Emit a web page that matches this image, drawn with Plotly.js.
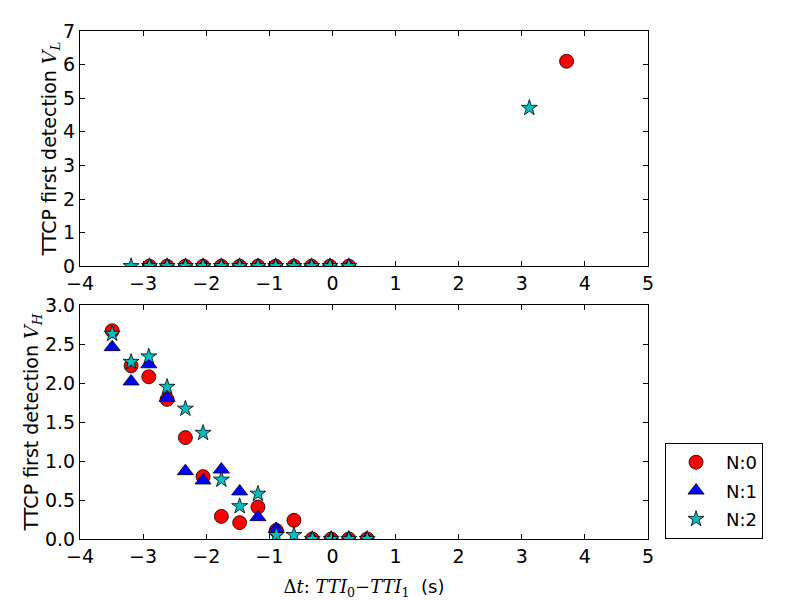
<!DOCTYPE html>
<html>
<head>
<meta charset="utf-8">
<script src="https://cdn.plot.ly/plotly-3.0.1.min.js"></script>
<style>
  body { margin: 0; background: white; }
  #chart { width: 800px; height: 600px; }
</style>
</head>
<body>
<div id="chart"></div>
<script>
// top panel: V_L
var top_x_n0 = [-2.90, -2.62, -2.33, -2.05, -1.76, -1.47, -1.18, -0.90, -0.61, -0.33, -0.04, 0.26, 3.71]
var top_y_n0 = [0, 0, 0, 0, 0, 0, 0, 0, 0, 0, 0, 0, 6.10]
var top_x_n1 = [-2.90, -2.62, -2.33, -2.05, -1.76, -1.47, -1.18, -0.90, -0.61, -0.33, -0.04, 0.26]
var top_y_n1 = [0, 0, 0, 0, 0, 0, 0, 0, 0, 0, 0, 0]
var top_x_n2 = [-3.19, -2.90, -2.62, -2.33, -2.05, -1.76, -1.47, -1.18, -0.90, -0.61, -0.33, -0.04, 0.26, 3.12]
var top_y_n2 = [0, 0, 0, 0, 0, 0, 0, 0, 0, 0, 0, 0, 0, 4.71]

// bottom panel: V_H
var bot_x_n0 = [-3.49, -3.19, -2.91, -2.62, -2.33, -2.05, -1.76, -1.47, -1.18, -0.89, -0.61, -0.32, -0.02, 0.26, 0.55]
var bot_y_n0 = [2.67, 2.22, 2.08, 1.79, 1.30, 0.80, 0.29, 0.21, 0.41, 0.11, 0.24, 0, 0, 0, 0]
var bot_x_n1 = [-3.49, -3.19, -2.91, -2.62, -2.33, -2.05, -1.76, -1.47, -1.18, -0.89, -0.32, -0.02, 0.26, 0.55]
var bot_y_n1 = [2.46, 2.02, 2.24, 1.81, 0.87, 0.75, 0.89, 0.61, 0.28, 0.13, 0, 0, 0, 0]
var bot_x_n2 = [-3.49, -3.19, -2.91, -2.62, -2.33, -2.05, -1.76, -1.47, -1.18, -0.89, -0.61, -0.32, -0.02, 0.26, 0.55]
var bot_y_n2 = [2.63, 2.27, 2.34, 1.95, 1.67, 1.36, 0.76, 0.42, 0.58, 0.05, 0.05, 0, 0, 0, 0]

var names = ['N:0', 'N:1', 'N:2']
var symbols = ['circle', 'triangle-up', 'star']
var colors = ['#ff0000', '#0000ff', '#00bfbf']
var sizes = [14, 14, 12]

var top_xs = [top_x_n0, top_x_n1, top_x_n2]
var top_ys = [top_y_n0, top_y_n1, top_y_n2]
var bot_xs = [bot_x_n0, bot_x_n1, bot_x_n2]
var bot_ys = [bot_y_n0, bot_y_n1, bot_y_n2]

var data = []

function marker(i) {
  return {
    symbol: symbols[i],
    color: colors[i],
    size: sizes[i],
    line: {color: 'black', width: 0.8}
  }
}

for (var i = 0; i < 3; i++) {
  data.push({
    type: 'scatter',
    mode: 'markers',
    x: top_xs[i],
    y: top_ys[i],
    name: names[i],
    legendgroup: names[i],
    showlegend: false,
    xaxis: 'x',
    yaxis: 'y',
    marker: marker(i)
  })
}

for (var i = 0; i < 3; i++) {
  data.push({
    type: 'scatter',
    mode: 'markers',
    x: bot_xs[i],
    y: bot_ys[i],
    name: names[i],
    legendgroup: names[i],
    xaxis: 'x2',
    yaxis: 'y2',
    marker: marker(i)
  })
}

var math = "font-family:DejaVu Serif"
var fs = 19

var axis_style = {
  showline: true,
  linecolor: 'black',
  linewidth: 1,
  mirror: 'ticks',
  ticks: 'inside',
  ticklen: 5,
  tickcolor: 'black',
  showgrid: false,
  zeroline: false,
  tickfont: {family: 'DejaVu Sans', size: fs, color: 'black'}
}

var layout = {
  width: 800,
  height: 600,
  margin: {l: 80, r: 152, t: 31, b: 61},
  paper_bgcolor: 'white',
  plot_bgcolor: 'white',
  font: {family: 'DejaVu Sans', color: 'black', size: fs},
  xaxis: Object.assign({}, axis_style, {
    domain: [0, 1], range: [-4, 5], dtick: 1, anchor: 'y'
  }),
  yaxis: Object.assign({}, axis_style, {
    domain: [0.537, 1], range: [0, 7], dtick: 1, anchor: 'x',
    automargin: true,
    title: {text: "TTCP first detection <span style=\"" + math + "\"><i>V</i><sub><i>L</i></sub></span>", font: {family: 'DejaVu Sans', size: fs}, standoff: 1}
  }),
  xaxis2: Object.assign({}, axis_style, {
    domain: [0, 1], range: [-4, 5], dtick: 1, anchor: 'y2',
    title: {text: "<span style=\"" + math + "\">Δ<i>t</i>: <i>TTI</i><sub>0</sub>−<i>TTI</i><sub>1</sub></span>  (s)", font: {family: 'DejaVu Sans', size: 18}}
  }),
  yaxis2: Object.assign({}, axis_style, {
    domain: [0, 0.4606], range: [0, 3], dtick: 0.5, tickformat: '.1f', anchor: 'x2',
    automargin: true,
    title: {text: "TTCP first detection <span style=\"" + math + "\"><i>V</i><sub><i>H</i></sub></span>", font: {family: 'DejaVu Sans', size: fs}, standoff: 0}
  }),
  showlegend: true,
  legend: {
    x: 1.03, y: 0, xanchor: 'left', yanchor: 'bottom',
    bordercolor: 'black', borderwidth: 1,
    bgcolor: 'white',
    font: {family: 'DejaVu Sans', size: 18},
    traceorder: 'grouped',
    tracegroupgap: 2,
    itemwidth: 50
  }
}

Plotly.newPlot('chart', data, layout, {staticPlot: true})
</script>
</body>
</html>
